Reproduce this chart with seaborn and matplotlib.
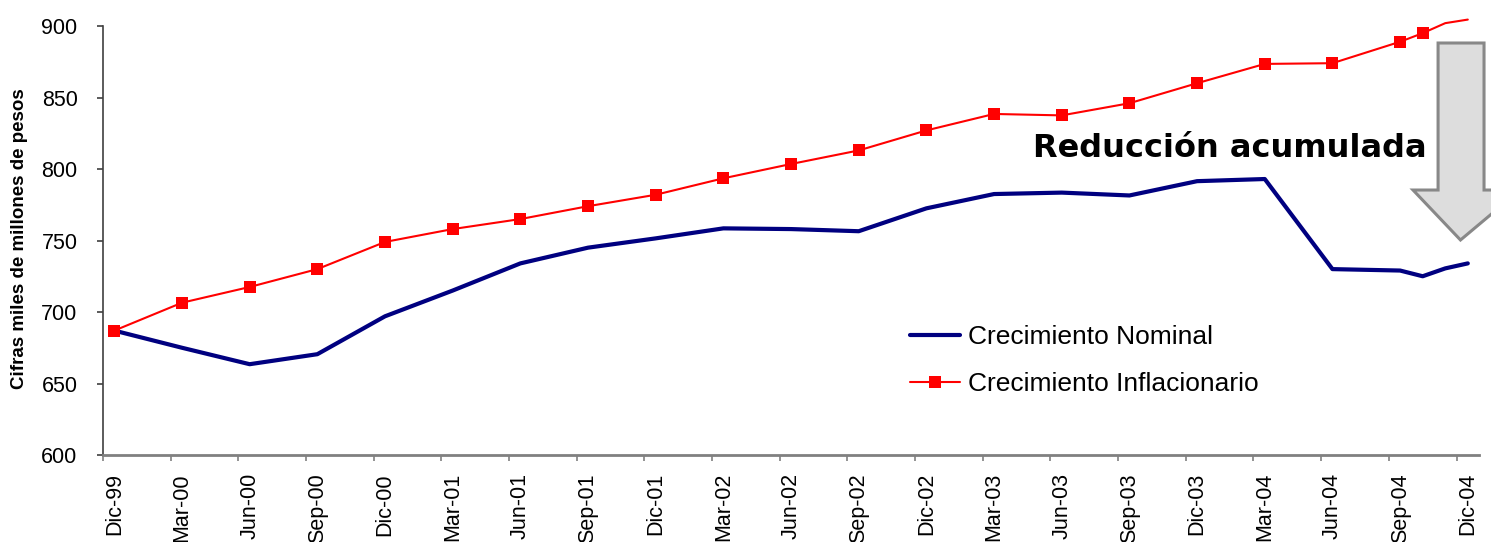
import matplotlib
matplotlib.use("Agg")
import matplotlib.pyplot as plt
from matplotlib.patches import Polygon
import seaborn as sns
import pandas as pd

# Observation dates (quarterly, monthly at the end of 2004)
fechas = ["1999-12", "2000-03", "2000-06", "2000-09", "2000-12",
          "2001-03", "2001-06", "2001-09", "2001-12",
          "2002-03", "2002-06", "2002-09", "2002-12",
          "2003-03", "2003-06", "2003-09", "2003-12",
          "2004-03", "2004-06", "2004-09", "2004-10", "2004-11", "2004-12"]

# Miles de millones de pesos
nominal = [687, 675, 663.5, 670.5, 697, 715, 734, 745, 751.5, 758.5, 758, 756.5,
           772.5, 782.5, 783.5, 781.5, 791.5, 793, 730, 729, 725, 730.5, 734]
inflacionario = [687, 706.5, 717.5, 730, 749, 758, 765, 774, 782, 793.5, 803.5, 813,
                 827, 838.5, 837.5, 846, 860, 873.5, 874, 889, 895, 902, 904.5]

meses_es = {3: "Mar", 6: "Jun", 9: "Sep", 12: "Dic"}

periodos = pd.PeriodIndex(fechas, freq="M")
inicio = periodos[0]
mes = [(p - inicio).n for p in periodos]

df = pd.DataFrame({
    "mes": mes * 2,
    "valor": nominal + inflacionario,
    "serie": ["Crecimiento Nominal"] * len(mes) + ["Crecimiento Inflacionario"] * len(mes),
})

sns.set_style("white")
plt.rcParams["font.family"] = ["Liberation Sans", "DejaVu Sans"]
plt.rcParams["text.color"] = "black"
plt.rcParams["axes.labelcolor"] = "black"
plt.rcParams["xtick.color"] = "black"
plt.rcParams["ytick.color"] = "black"

fig = plt.figure(figsize=(14.91, 5.42), dpi=100)
ax = fig.add_axes([0.0691, 0.1605, 0.9229, 0.7915])

sns.lineplot(data=df[df.serie == "Crecimiento Nominal"], x="mes", y="valor",
             color="#000080", linewidth=3.0, ax=ax, label="Crecimiento Nominal",
             clip_on=False)
sns.lineplot(data=df[df.serie == "Crecimiento Inflacionario"], x="mes", y="valor",
             color="#FF0000", linewidth=1.5, marker="s", markersize=8,
             markeredgewidth=0, ax=ax, label="Crecimiento Inflacionario",
             clip_on=False)

# Markers only up to October 2004
linea_inf = ax.get_lines()[1]
n_marc = len([m for m in mes if m <= (pd.Period("2004-10", freq="M") - inicio).n])
linea_inf.set_markevery(list(range(n_marc)))

# Category-style month axis: labels every quarter, ticks between categories
total_meses = mes[-1]
ax.set_xlim(-0.5, total_meses + 0.5)
ax.set_ylim(600, 900)
ax.set_yticks(range(600, 901, 50))

etiquetas_pos = list(range(0, total_meses + 1, 3))
etiquetas = []
for k in etiquetas_pos:
    p = inicio + k
    etiquetas.append(f"{meses_es[p.month]}-{p.year % 100:02d}")
ax.set_xticks([k - 0.5 for k in etiquetas_pos])
ax.set_xticklabels([])
ax.set_xticks(etiquetas_pos, minor=True)
ax.set_xticklabels(etiquetas, minor=True, rotation=90, fontsize=15.5)
ax.tick_params(axis="x", which="major", direction="out", length=4.3, width=1.2,
               color="#808080", bottom=True)
ax.tick_params(axis="x", which="minor", length=0, pad=13)
ax.tick_params(axis="y", direction="out", length=4.3, width=1.2, color="#404040",
               labelsize=15.5, left=True, pad=14)

ax.set_xlabel("")
ax.set_ylabel("Cifras miles de millones de pesos", fontsize=13.5,
              fontweight="bold")
ax.yaxis.set_label_coords(-0.0545, 0.505)

for s in ["top", "right"]:
    ax.spines[s].set_visible(False)
ax.spines["left"].set_color("#404040")
ax.spines["left"].set_linewidth(1.2)
ax.spines["bottom"].set_color("#808080")
ax.spines["bottom"].set_linewidth(2)

leg = ax.legend(loc="upper left", bbox_to_anchor=(0.5865, 0.302), frameon=False,
                fontsize=19, handlelength=1.9, handletextpad=0.3,
                borderpad=0, borderaxespad=0, labelspacing=0.85)

# Annotation: accumulated reduction
ax.text(0.819, 0.715, "Reducción acumulada", transform=ax.transAxes,
        ha="center", va="center", fontsize=23, fontweight="bold",
        family="DejaVu Sans", color="black")

flecha = Polygon([(0.9702, 0.9604), (1.0036, 0.9604), (1.0036, 0.6177),
                  (1.0298, 0.6177), (0.9865, 0.5012), (0.952, 0.6177),
                  (0.9702, 0.6177)],
                 closed=True, transform=ax.transAxes, facecolor="#DDDDDD",
                 edgecolor="#888888", linewidth=2.2, clip_on=False, zorder=5)
ax.add_patch(flecha)

fig.savefig("out.png", dpi=100)
